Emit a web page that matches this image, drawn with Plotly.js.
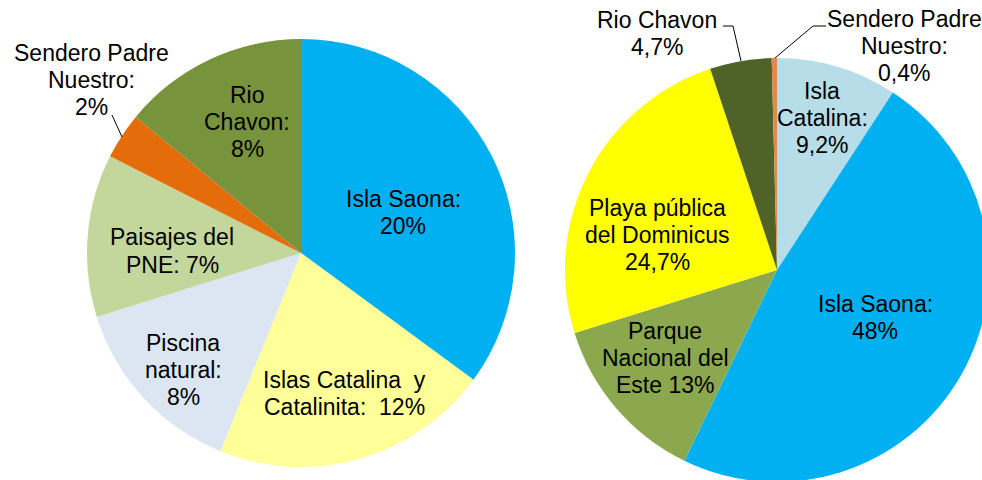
<!DOCTYPE html>
<html><head><meta charset="utf-8">
<script src="https://cdn.plot.ly/plotly-3.0.1.min.js"></script>
<style>html,body{margin:0;padding:0;overflow:hidden;background:#fff;width:982px;height:480px}#chart{width:1000px;height:490px}</style>
</head><body><div id="chart"></div>
<script>
// ---- data ----
const leftCategories = ['Isla Saona', 'Islas Catalina y Catalinita', 'Piscina natural', 'Paisajes del PNE', 'Sendero Padre Nuestro', 'Rio Chavon'];
const leftValues = [20, 12, 8, 7, 2, 8];
const leftLabelLines = [['Isla Saona:', '20%'], ['Islas Catalina\u00a0 y', 'Catalinita:\u00a0 12%'], ['Piscina', 'natural:', '8%'], ['Paisajes del', 'PNE: 7%'], ['Sendero Padre', 'Nuestro:', '2%'], ['Rio', 'Chavon:', '8%']];

const rightCategories = ['Isla Catalina', 'Isla Saona', 'Parque Nacional del Este', 'Playa pública del Dominicus', 'Rio Chavon', 'Sendero Padre Nuestro'];
const rightValues = [9.2, 48, 13, 24.7, 4.7, 0.4];
const rightLabelLines = [['Isla', 'Catalina:', '9,2%'], ['Isla Saona:', '48%'], ['Parque', 'Nacional del', 'Este 13%'], ['Playa pública', 'del Dominicus', '24,7%'], ['Rio Chavon', '4,7%'], ['Sendero Padre', 'Nuestro:', '0,4%']];

// ---- styles / positions ----
const leftColors = ['#00B0F0', '#FFFF99', '#DCE6F2', '#C3D69B', '#E46C0A', '#77933C'];
const rightColors = ['#B7DEE8', '#00B0F0', '#8BA84E', '#FFFF00', '#4F6228', '#DE8A4C'];
const W = 1000, H = 490;
const px = x => x / W, py = y => 1 - y / H;
const leftPos = [[403, 212], [344, 393], [183, 370], [172, 251], [91, 80], [247, 122]];
const rightPos = [[822, 118], [875, 317], [665, 358], [657, 235], [657, 33], [904, 46]];
const LS = 27;
const FONT = {family: 'Liberation Sans, Arial, sans-serif', size: 23, color: '#000'};

function makeAnnots(lines, pos) {
  const out = [];
  lines.forEach((ls, i) => {
    const [cx, cy] = pos[i];
    ls.forEach((t, j) => {
      out.push({x: px(cx), y: py(cy + (j - (ls.length - 1) / 2) * LS), xref: 'paper', yref: 'paper',
        text: t, showarrow: false, xanchor: 'center', yanchor: 'middle', font: FONT});
    });
  });
  return out;
}

const traces = [
  {type: 'pie', labels: leftCategories, values: leftValues, sort: false, direction: 'clockwise', rotation: 0,
   marker: {colors: leftColors, line: {width: 0}}, textinfo: 'none', hoverinfo: 'label+value',
   domain: {x: [px(87), px(515)], y: [py(467), py(39)]}},
  {type: 'pie', labels: rightCategories, values: rightValues, sort: false, direction: 'clockwise', rotation: 0,
   marker: {colors: rightColors, line: {width: 0}}, textinfo: 'none', hoverinfo: 'label+value',
   domain: {x: [px(565), px(989)], y: [py(482), py(58)]}}
];

function pathOf(pts) { return pts.map((p, i) => (i ? 'L' : 'M') + px(p[0]) + ',' + py(p[1])).join(' '); }
const shapes = [
  {type: 'path', xref: 'paper', yref: 'paper', path: pathOf([[112, 115], [122, 137]]), line: {color: '#000', width: 1}},
  {type: 'path', xref: 'paper', yref: 'paper', path: pathOf([[723, 26], [733, 26], [741, 61]]), line: {color: '#000', width: 1}},
  {type: 'path', xref: 'paper', yref: 'paper', path: pathOf([[826, 26], [813, 26], [775, 58]]), line: {color: '#000', width: 1}}
];

const layout = {
  width: W, height: H, margin: {l: 0, r: 0, t: 0, b: 0}, showlegend: false,
  paper_bgcolor: '#fff', plot_bgcolor: '#fff',
  annotations: makeAnnots(leftLabelLines, leftPos).concat(makeAnnots(rightLabelLines, rightPos)),
  shapes: shapes
};
Plotly.newPlot('chart', traces, layout, {displayModeBar: false, staticPlot: true});
</script></body></html>
